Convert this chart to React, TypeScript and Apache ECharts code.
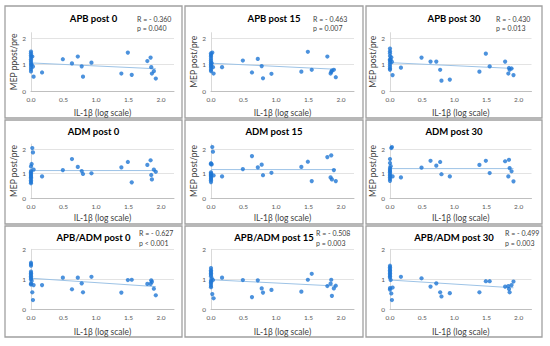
import React, { useEffect, useRef } from "react";
import * as echarts from "echarts";

// IL-1β (log scale), shared by all panels
const IL1B = [0, 0, 0, 0, 0, 0, 0, 0, 0, 0, 0, 0.01, 0.02, 0.03, 0.04, 0.17, 0.49, 0.63, 0.72, 0.78, 0.8, 0.93, 1.39, 1.49, 1.55, 1.79, 1.84, 1.85, 1.86, 1.89, 1.92];

const APB_POST0 = [1.49, 1.42, 1.35, 1.28, 1.2, 1.13, 1.06, 0.98, 0.9, 0.82, 0.74, 1.0, 1.3, 0.92, 0.54, 0.7, 1.2, 1.04, 1.3, 0.93, 0.54, 1.07, 0.66, 1.45, 0.61, 1.13, 1.26, 0.9, 0.66, 0.75, 0.47];
const APB_POST15 = [1.42, 1.36, 1.3, 1.22, 1.15, 1.08, 1.0, 0.94, 0.88, 0.8, 0.75, 1.05, 1.45, 0.9, 0.66, 0.9, 1.15, 0.7, 1.21, 0.94, 0.48, 0.65, 0.73, 1.48, 0.8, 1.3, 0.66, 0.72, 0.77, 0.8, 0.52];
const APB_POST30 = [1.6, 1.5, 1.42, 1.32, 1.2, 1.15, 1.08, 1.0, 0.92, 0.85, 0.8, 1.18, 1.27, 1.1, 0.6, 0.88, 1.26, 1.11, 1.11, 0.8, 0.39, 0.43, 0.73, 1.41, 0.93, 1.11, 0.66, 0.87, 0.8, 0.85, 0.6];
const ADM_POST0 = [1.29, 1.1, 1.05, 1.0, 0.95, 0.9, 0.85, 0.8, 0.72, 0.66, 0.6, 1.39, 2.04, 1.86, 1.16, 0.88, 1.14, 1.59, 1.27, 1.1, 0.98, 1.01, 1.25, 1.47, 0.64, 1.35, 1.54, 0.94, 0.76, 1.16, 1.07];
const ADM_POST15 = [1.42, 1.38, 1.05, 1.0, 0.96, 0.92, 0.88, 0.82, 0.78, 0.72, 0.65, 1.37, 2.08, 1.89, 0.92, 0.88, 1.18, 1.71, 1.25, 1.36, 0.93, 1.03, 1.27, 1.48, 0.69, 1.67, 0.84, 1.74, 0.76, 1.14, 0.69];
const ADM_POST30 = [1.59, 1.43, 1.22, 1.15, 1.1, 1.05, 0.98, 0.92, 0.85, 0.78, 0.7, 1.3, 2.04, 2.08, 0.88, 0.84, 1.24, 1.52, 1.32, 1.47, 0.97, 0.88, 1.35, 1.52, 1.02, 1.5, 0.88, 1.56, 1.22, 1.09, 0.68];
const RATIO_POST0 = [1.55, 1.5, 1.45, 1.25, 1.2, 1.15, 1.1, 1.05, 1.0, 0.85, 0.82, 0.94, 0.56, 0.3, 0.8, 0.8, 1.05, 0.66, 1.05, 0.86, 0.56, 1.08, 0.55, 0.97, 0.98, 0.84, 0.84, 0.96, 0.91, 0.68, 0.46];
const RATIO_POST15 = [1.37, 1.3, 1.25, 1.2, 1.15, 1.1, 0.95, 0.9, 0.85, 0.78, 0.73, 1.03, 0.5, 0.97, 0.36, 1.05, 0.97, 0.4, 0.96, 0.69, 0.55, 0.64, 0.58, 0.98, 1.18, 0.77, 0.85, 0.98, 0.44, 0.69, 0.78];
const RATIO_POST30 = [1.45, 1.4, 1.35, 1.3, 1.25, 1.2, 1.15, 1.1, 1.05, 0.7, 0.65, 0.97, 0.52, 0.3, 0.72, 1.08, 1.03, 0.75, 0.86, 0.56, 0.42, 0.53, 0.56, 0.93, 0.93, 0.75, 0.77, 0.67, 0.56, 0.8, 0.92];

const SERIES_Y = [APB_POST0, APB_POST15, APB_POST30, ADM_POST0, ADM_POST15, ADM_POST30, RATIO_POST0, RATIO_POST15, RATIO_POST30];
const TITLES = ["APB post 0", "APB post 15", "APB post 30", "ADM post 0", "ADM post 15", "ADM post 30", "APB/ADM post 0", "APB/ADM post 15", "APB/ADM post 30"];
const Y_NAMES = ["MEP ppost/pre", "MEP post/pre", "MEP post/pre", "MEP post/pre", "MEP post/pre", "MEP post/pre", "", "", ""];
const X_NAME = "IL-1β (log scale)";
const R_TEXTS = ["R = - 0.360", "R = - 0.463", "R = - 0.430", "", "", "", "R = - 0.627", "R = - 0.508", "R = - 0.499"];
const P_TEXTS = ["p = 0.040", "p = 0.007", "p = 0.013", "", "", "", "p < 0.001", "p = 0.003", "p = 0.003"];
const TREND_START = [1.06, 1.05, 1.07, 1.12, 1.16, 1.2, 1.03, 0.98, 0.97];
const TREND_END = [0.84, 0.82, 0.85, 1.12, 1.16, 1.2, 0.75, 0.77, 0.71];
const TREND_X_END = 1.92;
const X_TICKS_MAX = 2.2;
const Y_MAX = [2.2, 2.2, 2.0];

// layout (pixels)
const COLS = [
  { px: 5, w: 177, ax: 31, pw: 143 },
  { px: 185, w: 178, ax: 211, pw: 143 },
  { px: 366, w: 176, ax: 390, pw: 141.5 },
];
const ROWS = [
  { py: 6, h: 112, top: 32.7, ph: 58.3, titleY: 18, rY: 19, pY: 28, nameGap: 17 },
  { py: 120, h: 104, top: 144.1, ph: 53.9, titleY: 131, rY: 0, pY: 0, nameGap: 15 },
  { py: 226, h: 111, top: 249.3, ph: 59.7, titleY: 237, rY: 233, pY: 243, nameGap: 18 },
];
const R_X = [[137, 313, 496], [0, 0, 0], [139, 316, 505]];

const FONT = "Lato, 'Open Sans', sans-serif";
const DOT = "#1f77d4";
const TREND = "#9dc3e6";

export default function App() {
  const ref = useRef<HTMLDivElement>(null);
  useEffect(() => {
    if (!ref.current) return;
    const chart = echarts.init(ref.current, undefined, { renderer: "svg" });
    const grids: any[] = [];
    const xAxes: any[] = [];
    const yAxes: any[] = [];
    const series: any[] = [];
    const graphics: any[] = [];
    for (let i = 0; i < 9; i++) {
      const r = Math.floor(i / 3);
      const c = i % 3;
      const col = COLS[c];
      const row = ROWS[r];
      grids.push({ left: col.ax, top: row.top, width: col.pw, height: row.ph, containLabel: false });
      xAxes.push({
        gridIndex: i,
        type: "value",
        min: 0,
        max: X_TICKS_MAX,
        interval: 0.5,
        name: X_NAME,
        nameLocation: "middle",
        nameGap: row.nameGap,
        nameTextStyle: { fontFamily: FONT, fontSize: 8.5, color: "#404040" },
        axisLine: { show: true, onZero: false, lineStyle: { color: "#bfbfbf", width: 1 } },
        axisTick: { show: false },
        axisLabel: {
          fontFamily: FONT,
          fontSize: 6.5,
          color: "#595959",
          margin: 5,
          showMaxLabel: false,
          formatter: (v: number) => v.toFixed(1),
        },
        splitLine: { show: false },
      });
      yAxes.push({
        gridIndex: i,
        type: "value",
        min: 0,
        max: Y_MAX[r],
        interval: 1,
        name: Y_NAMES[i],
        nameLocation: "middle",
        nameGap: 11,
        nameTextStyle: { fontFamily: FONT, fontSize: 8.5, color: "#404040" },
        axisLine: { show: true, lineStyle: { color: "#d9d9d9", width: 1 } },
        axisTick: { show: false },
        axisLabel: {
          fontFamily: FONT,
          fontSize: 6.5,
          color: "#595959",
          margin: 5,
          showMaxLabel: r === 2,
          formatter: (v: number) => (Number.isInteger(v) ? String(v) : ""),
        },
        splitLine: { show: true, showMinLine: false, showMaxLine: r === 2, lineStyle: { color: "#e3e3e3", width: 1 } },
      });
      series.push({
        type: "line",
        xAxisIndex: i,
        yAxisIndex: i,
        data: [
          [0, TREND_START[i]],
          [TREND_X_END, TREND_END[i]],
        ],
        symbol: "none",
        lineStyle: { color: TREND, width: 1 },
        z: 1,
      });
      series.push({
        type: "scatter",
        xAxisIndex: i,
        yAxisIndex: i,
        data: IL1B.map((x, k) => [x, SERIES_Y[i][k]]),
        symbol: "circle",
        symbolSize: 4.2,
        itemStyle: { color: DOT },
        z: 3,
      });
      graphics.push({
        type: "rect",
        shape: { x: col.px, y: row.py, width: col.w, height: row.h },
        style: { fill: "none", stroke: "#a0a0a0", lineWidth: 1.3 },
        silent: true,
      });
      graphics.push({
        type: "text",
        x: col.px + col.w / 2,
        y: row.titleY,
        style: {
          text: TITLES[i],
          fontFamily: FONT,
          fontSize: 9.5,
          fontWeight: "bold",
          fill: "#000",
          align: "center",
          verticalAlign: "middle",
        },
      });
      if (R_TEXTS[i]) {
        graphics.push({
          type: "text",
          x: R_X[r][c],
          y: row.rY,
          style: { text: R_TEXTS[i], fontFamily: FONT, fontSize: 7, fill: "#404040", align: "left", verticalAlign: "middle" },
        });
        graphics.push({
          type: "text",
          x: R_X[r][c],
          y: row.pY,
          style: { text: P_TEXTS[i], fontFamily: FONT, fontSize: 7, fill: "#404040", align: "left", verticalAlign: "middle" },
        });
      }
    }
    chart.setOption({
      animation: false,
      backgroundColor: "#ffffff",
      textStyle: { fontFamily: FONT },
      grid: grids,
      xAxis: xAxes,
      yAxis: yAxes,
      series,
      graphic: graphics,
    });
    return () => chart.dispose();
  }, []);
  return <div ref={ref} style={{ position: "fixed", left: 0, top: 0, width: 550, height: 346 }} />;
}
